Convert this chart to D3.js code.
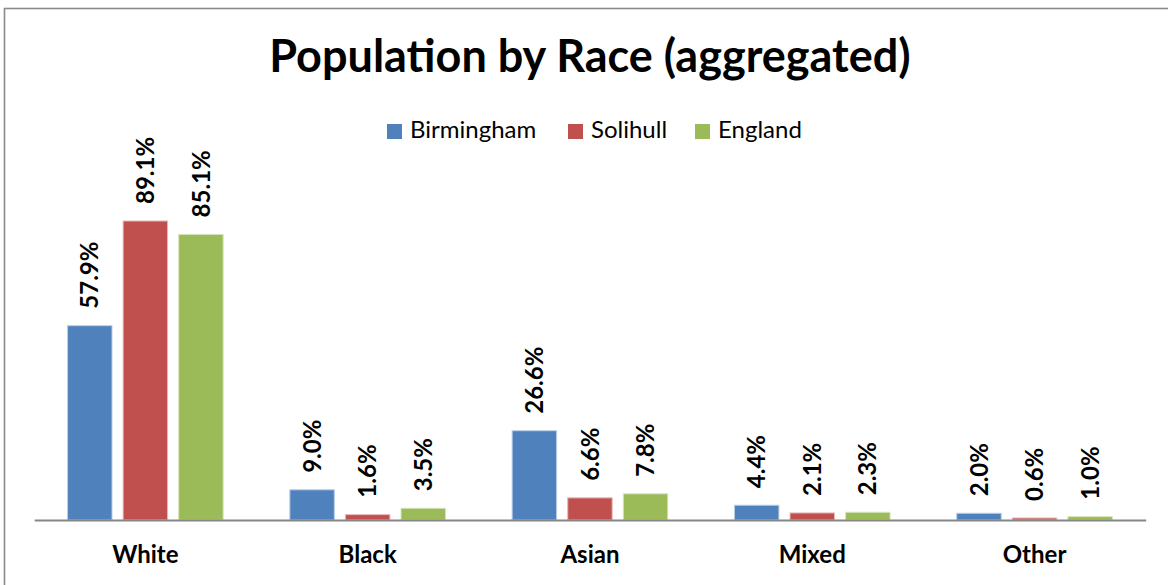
<!DOCTYPE html>
<html>
<head>
<meta charset="utf-8">
<script src="https://cdn.jsdelivr.net/npm/d3@7"></script>
<style>
  html, body { margin: 0; padding: 0; background: #fff; }
  svg { display: block; font-family: Lato, "Open Sans", sans-serif; }
</style>
</head>
<body>
<svg id="chart" width="1168" height="585"></svg>
<script>
// Population share by race, per area (percent)
const categories = ["White", "Black", "Asian", "Mixed", "Other"];
const seriesNames = ["Birmingham", "Solihull", "England"];
const birmingham = [57.9, 9.0, 26.6, 4.4, 2.0];
const solihull   = [89.1, 1.6, 6.6, 2.1, 0.6];
const england    = [85.1, 3.5, 7.8, 2.3, 1.0];
const seriesColors = ["#4F81BD", "#C0504D", "#9BBB59"];
const seriesStroke = ["#B9CDE5", "#E6B9B8", "#D7E4BD"];

const seriesValues = [birmingham, solihull, england];
const rows = categories.map((c, i) => ({
  category: c,
  values: seriesNames.map((s, j) => ({ series: s, idx: j, value: seriesValues[j][i] }))
}));

const svg = d3.select("#chart");
const W = 1168, H = 585;

// outer chart frame
svg.append("rect")
  .attr("x", 4.5).attr("y", 8.5)
  .attr("width", W + 20).attr("height", H + 20)
  .attr("fill", "#fff")
  .attr("stroke", "#8a8a8a").attr("stroke-width", 1.6);

const plot = { left: 34.2, right: 1145.7, top: 184.4, bottom: 520 };

const x0 = d3.scaleBand()
  .domain(categories)
  .range([plot.left, plot.right])
  .paddingInner(0.30)
  .paddingOuter(0.15);

const x1 = d3.scaleBand()
  .domain(seriesNames)
  .range([0, x0.bandwidth()])
  .paddingInner(0.2);

const y = d3.scaleLinear().domain([0, 100]).range([plot.bottom, plot.top]);

// title
svg.append("text")
  .attr("x", (plot.left + plot.right) / 2)
  .attr("y", 72)
  .attr("text-anchor", "middle")
  .attr("font-weight", 700)
  .attr("font-size", 45)
  .attr("fill", "#000")
  .text("Population by Race (aggregated)");

// legend
const legendItems = [
  { name: "Birmingham", x: 387 },
  { name: "Solihull", x: 568 },
  { name: "England", x: 695 }
];
const legend = svg.append("g");
legendItems.forEach((d, i) => {
  legend.append("rect")
    .attr("x", d.x).attr("y", 124)
    .attr("width", 15).attr("height", 15)
    .attr("fill", seriesColors[i]);
  legend.append("text")
    .attr("x", d.x + 23).attr("y", 138)
    .attr("font-size", 24)
    .attr("fill", "#000")
    .text(d.name);
});

// bars
const groups = svg.append("g").selectAll("g")
  .data(rows)
  .join("g")
  .attr("transform", d => `translate(${x0(d.category)},0)`);

groups.selectAll("rect")
  .data(d => d.values)
  .join("rect")
  .attr("x", d => x1(d.series))
  .attr("y", d => y(d.value))
  .attr("width", x1.bandwidth())
  .attr("height", d => y(0) - y(d.value))
  .attr("fill", d => seriesColors[d.idx])
  .attr("stroke", d => seriesStroke[d.idx])
  .attr("stroke-width", 1);

// value labels, rotated
groups.selectAll("text")
  .data(d => d.values)
  .join("text")
  .attr("transform", d => {
    const cx = x1(d.series) + x1.bandwidth() / 2;
    const cy = y(d.value) - 17;
    return `translate(${cx},${cy}) rotate(-90)`;
  })
  .attr("text-anchor", "start")
  .attr("dy", "0.36em")
  .attr("font-weight", 700)
  .attr("font-size", 24)
  .attr("fill", "#000")
  .text(d => d.value.toFixed(1) + "%");

// category axis
const xAxis = svg.append("g")
  .attr("transform", `translate(0,${plot.bottom})`)
  .call(d3.axisBottom(x0).tickSize(0).tickPadding(0).tickSizeOuter(0));
xAxis.select(".domain")
  .attr("stroke", "#868686")
  .attr("stroke-width", 2);
xAxis.selectAll(".tick text")
  .attr("y", 43)
  .attr("dy", 0)
  .attr("font-family", "Lato, 'Open Sans', sans-serif")
  .attr("font-size", 24)
  .attr("font-weight", 700)
  .attr("fill", "#000");
</script>
</body>
</html>
